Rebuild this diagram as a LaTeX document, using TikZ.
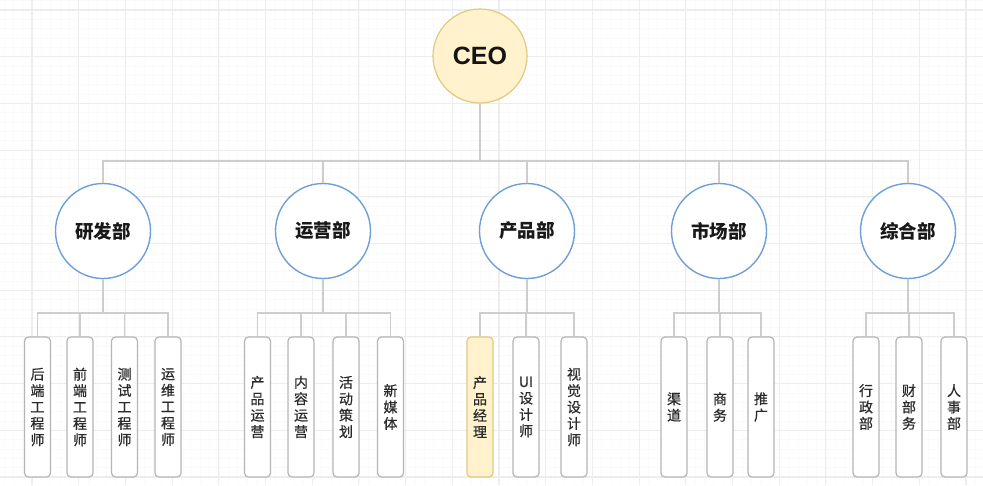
\documentclass[tikz,border=0pt]{standalone}
\usepackage{fontspec}
\setmainfont{Noto Sans CJK SC}
\newfontfamily\ceofont{Liberation Sans}
\newfontfamily\rolefont[FakeBold=0.6]{Noto Sans CJK SC}
\usetikzlibrary{calc}

\definecolor{gridmajor}{HTML}{EDEDED}
\definecolor{gridminor}{HTML}{FAFAFA}
\definecolor{linkgray}{HTML}{CDCDCD}
\definecolor{boxgray}{HTML}{B5B5B5}
\definecolor{ceofill}{HTML}{FFF2CC}
\definecolor{ceoline}{HTML}{E0C980}
\definecolor{deptline}{HTML}{6F9FD8}
\definecolor{textdark}{HTML}{2A2A2A}

\tikzset{
  gridmaj/.style={draw=gridmajor, line width=1.1pt},
  gridmin/.style={draw=gridminor, line width=0.6pt},
  link/.style={draw=linkgray, line width=1.3pt},
  ceonode/.style={circle, draw=ceoline, fill=ceofill, line width=1.2pt,
    minimum size=94pt, inner sep=0pt,
    font=\ceofont\bfseries\fontsize{25}{30}\selectfont, text=black!92},
  deptnode/.style={circle, draw=deptline, fill=white, line width=1.4pt,
    minimum size=95pt, inner sep=0pt,
    font=\bfseries\fontsize{18.5}{22}\selectfont, text=black!90},
  rolebox/.style={rectangle, rounded corners=4pt, draw=boxgray, fill=white,
    line width=1.2pt, minimum width=26pt, minimum height=140pt, inner sep=0pt,
    align=center, font=\rolefont\fontsize{14}{16.4}\selectfont, text=textdark},
  rolehl/.style={rolebox, fill=ceofill, draw=ceoline},
}

\begin{document}
\begin{tikzpicture}[x=1pt, y=-1pt]
  \useasboundingbox (0,0) rectangle (983,485);
  \fill[white] (0,0) rectangle (983,485);

  % background grid
  \foreach \i in {-5,...,105} {
    \draw[gridmin] ({32+9.34*\i},0) -- ++(0,485);
  }
  \foreach \i in {-2,...,52} {
    \draw[gridmin] (0,{10+9.34*\i}) -- ++(983,0);
  }
  \foreach \i in {-1,...,21} {
    \draw[gridmaj] ({32+46.7*\i},0) -- ++(0,485);
  }
  \foreach \i in {0,...,10} {
    \draw[gridmaj] (0,{10+46.7*\i}) -- ++(983,0);
  }

  % top level
  \node[ceonode] (ceo) at (480,56) {CEO};

  % departments
  \node[deptnode] (yf) at (103,231) {研发部};
  \node[deptnode] (yy) at (323,231) {运营部};
  \node[deptnode] (cp) at (527,231) {产品部};
  \node[deptnode] (sc) at (719,231) {市场部};
  \node[deptnode] (zh) at (908,231) {综合部};

  % roles
  \node[rolebox] (yf1) at (37.5,407) {后\\端\\工\\程\\师};
  \node[rolebox] (yf2) at (80,407)   {前\\端\\工\\程\\师};
  \node[rolebox] (yf3) at (124.5,407) {测\\试\\工\\程\\师};
  \node[rolebox] (yf4) at (168,407)  {运\\维\\工\\程\\师};

  \node[rolebox] (yy1) at (257.5,407) {产\\品\\运\\营};
  \node[rolebox] (yy2) at (301,407)   {内\\容\\运\\营};
  \node[rolebox] (yy3) at (346,407)   {活\\动\\策\\划};
  \node[rolebox] (yy4) at (390.5,407) {新\\媒\\体};

  \node[rolehl]  (cp1) at (480,407) {产\\品\\经\\理};
  \node[rolebox] (cp2) at (526,407) {UI\\设\\计\\师};
  \node[rolebox] (cp3) at (574,407) {视\\觉\\设\\计\\师};

  \node[rolebox] (sc1) at (674,407) {渠\\道};
  \node[rolebox] (sc2) at (720,407) {商\\务};
  \node[rolebox] (sc3) at (761,407) {推\\广};

  \node[rolebox] (zh1) at (866,407) {行\\政\\部};
  \node[rolebox] (zh2) at (909,407) {财\\部\\务};
  \node[rolebox] (zh3) at (954,407) {人\\事\\部};

  % bus points
  \coordinate (ceobus) at (480,161);
  \coordinate (yfbus) at (103,313);
  \coordinate (yybus) at (323,313);
  \coordinate (cpbus) at (527,313);
  \coordinate (scbus) at (719,313);
  \coordinate (zhbus) at (908,313);

  % connectors
  \draw[link] (ceo.south) -- (ceobus);
  \foreach \d in {yf,yy,cp,sc,zh} {
    \draw[link] (ceobus) -| (\d.north);
  }
  \foreach \d/\r in {yf/yf1,yf/yf2,yf/yf3,yf/yf4,
                     yy/yy1,yy/yy2,yy/yy3,yy/yy4,
                     cp/cp1,cp/cp2,cp/cp3,
                     sc/sc1,sc/sc2,sc/sc3,
                     zh/zh1,zh/zh2,zh/zh3} {
    \draw[link] (\d.south) -- (\d bus) -| (\r.north);
  }
\end{tikzpicture}
\end{document}
